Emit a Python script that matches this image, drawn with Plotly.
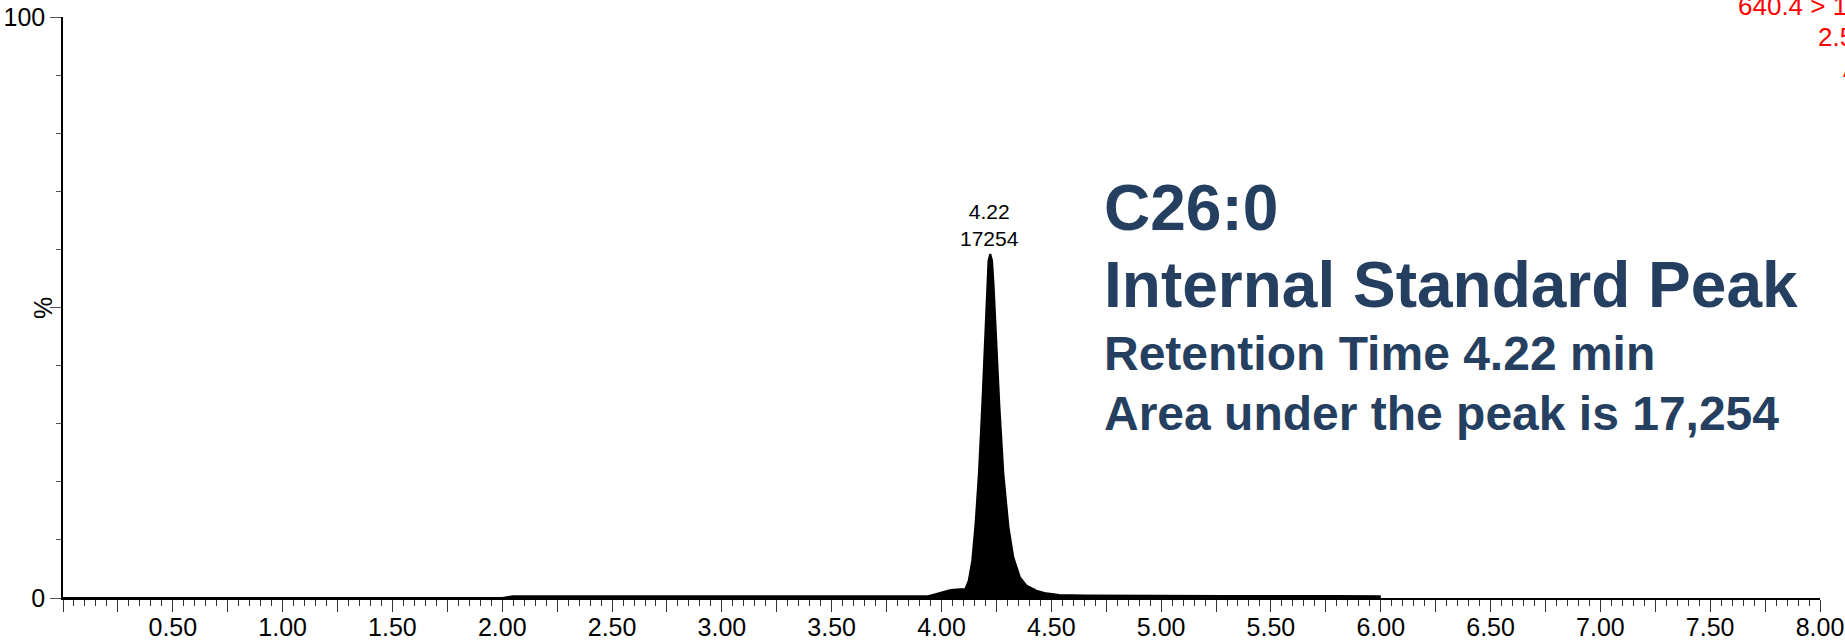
import plotly.graph_objects as go

# ---------------- data ----------------
times = [0.00, 0.50, 0.53, 0.58, 0.61, 0.70, 0.73, 0.83, 0.86, 0.88, 0.91, 1.02, 1.05,
         1.52, 1.55, 1.62, 1.65, 2.00, 2.05, 2.40, 2.50, 3.00, 3.50, 3.90, 3.937,
         3.952, 3.997, 4.042, 4.087, 4.109, 4.124, 4.140, 4.155, 4.170, 4.185, 4.200,
         4.207, 4.214, 4.222, 4.230, 4.237, 4.249, 4.264, 4.282, 4.305, 4.327, 4.357,
         4.387, 4.432, 4.477, 4.537, 4.65, 4.80, 5.00, 5.30, 5.50, 5.60, 5.70, 5.80, 6.00]
intensity = [0, 0, 0.12, 0.12, 0, 0, 0.12, 0.12, 0, 0, 0.12, 0.12, 0,
             0, 0.12, 0.12, 0, 0, 0.3, 0.3, 0.25, 0.3, 0.3, 0.3, 0.3,
             0.45, 0.98, 1.38, 1.49, 1.55, 2.98, 6.43, 12.7, 21.3, 32.8, 47.2,
             54.0, 58.1, 59.2, 58.1, 54.0, 44.3, 32.8, 21.3, 12.2, 7.0, 3.56,
             2.12, 1.26, 0.80, 0.52, 0.42, 0.38, 0.35, 0.33, 0.35, 0.38, 0.33, 0.35, 0.3]

peak_rt = 4.22
peak_area = 17254
peak_height = 59.2

x_labels = ["", "", "0.50", "", "1.00", "", "1.50", "", "2.00", "", "2.50", "", "3.00",
            "", "3.50", "", "4.00", "", "4.50", "", "5.00", "", "5.50", "", "6.00",
            "", "6.50", "", "7.00", "", "7.50", "", "8.00"]
x_vals = [0.25 * i for i in range(len(x_labels))]
y_vals = [0, 50, 100]
y_labels = ["0", "", "100"]

header_lines = ["640.4 > 104.1", "2.55e4", "Area"]
info_lines = ["C26:0", "Internal Standard Peak",
              f"Retention Time {peak_rt:.2f} min",
              f"Area under the peak is {peak_area:,}"]

# ---------------- layout geometry ----------------
W, H = 1845, 642
L, R, T, B = 63, 25, 17, 44
PW, PH = W - L - R, H - T - B


def px_x(px):
    return (px - L) / PW


def px_y(py):
    return (H - B - py) / PH


AX_FONT = dict(family="Liberation Sans, Arial, sans-serif", size=25, color="black")
NAVY = "#253F61"
INFO_FONT = "Liberation Sans, Arial, sans-serif"

fig = go.Figure()
fig.add_trace(go.Scatter(x=times, y=intensity, mode="lines",
                         line=dict(color="black", width=2),
                         fill="tozeroy", fillcolor="black",
                         showlegend=False, hoverinfo="skip"))

fig.update_layout(
    width=W, height=H, autosize=False,
    margin=dict(l=L, r=R, t=T, b=B, pad=0, autoexpand=False),
    plot_bgcolor="white", paper_bgcolor="white",
    xaxis=dict(range=[0, 8], tickmode="array", tickvals=x_vals, ticktext=x_labels,
               showgrid=False, zeroline=False, showline=True, linecolor="black",
               linewidth=2, ticks="outside", ticklen=12, tickwidth=1,
               tickcolor="#333", tickfont=AX_FONT, automargin=False,
               ticklabelstandoff=-6,
               minor=dict(dtick=0.05, tick0=0, ticklen=6, ticks="outside",
                          tickcolor="#333", tickwidth=1)),
    yaxis=dict(range=[0, 100], tickmode="array", tickvals=y_vals,
               ticktext=y_labels, showgrid=False, zeroline=False, showline=True,
               linecolor="black", linewidth=1.5, ticks="outside", ticklen=11,
               tickcolor="#555", tickwidth=1, tickfont=AX_FONT,
               automargin=False,
               minor=dict(dtick=10, ticklen=5, ticks="outside", tickcolor="#555",
                          tickwidth=1)),
)

ann = []
# peak label
ann.append(dict(x=peak_rt, y=peak_height, xref="x", yref="y",
                text=f"{peak_rt:.2f}<br>{peak_area}", showarrow=False,
                xanchor="center", yanchor="bottom", yshift=2,
                font=dict(family="Liberation Sans, Arial", size=21, color="black")))
# % axis title
ann.append(dict(x=px_x(43), y=px_y(308), xref="paper", yref="paper", text="%",
                showarrow=False, textangle=-90, xanchor="center", yanchor="middle",
                font=AX_FONT))
# red header, clipped by the right page edge as in the original
for i, line in enumerate(header_lines):
    base = 15 + 31 * i
    ann.append(dict(x=px_x(1900), y=px_y(base - 0.35 * 26), xref="paper", yref="paper",
                    text=line, showarrow=False, xanchor="right", yanchor="middle",
                    font=dict(family="Liberation Sans, Arial", size=26, color="red")))
# navy description block
baselines = [232, 309, 371, 431]
sizes = [64, 64, 48, 48]
for line, base, s in zip(info_lines, baselines, sizes):
    ann.append(dict(x=px_x(1102), y=px_y(base - 0.37 * s), xref="paper", yref="paper",
                    text=f"<b>{line}</b>", showarrow=False, xanchor="left",
                    yanchor="middle", font=dict(family=INFO_FONT, size=s, color=NAVY)))

fig.update_layout(annotations=ann)
fig.write_html("out.html")
